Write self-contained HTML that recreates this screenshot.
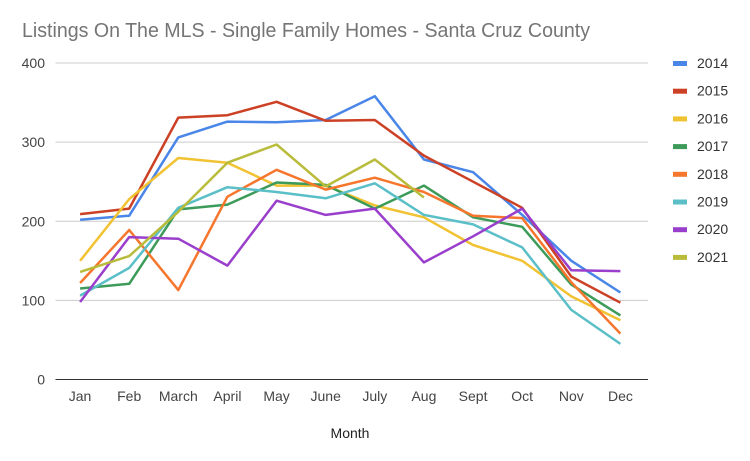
<!DOCTYPE html>
<html><head><meta charset="utf-8"><style>
body{margin:0;background:#fff;}
svg{display:block;font-family:"Liberation Sans",sans-serif;}
</style></head><body>
<svg id="chart" width="750" height="461">
<text x="22" y="37" font-size="20" fill="#757575" textLength="568" lengthAdjust="spacingAndGlyphs">Listings On The MLS - Single Family Homes - Santa Cruz County</text>
<g id="grid"></g><g id="lines"></g><g id="xlabels"></g><g id="legend"></g>
<text x="350" y="438" font-size="14" fill="#222" text-anchor="middle">Month</text>
</svg>
<script>
const months=["Jan","Feb","March","April","May","June","July","Aug","Sept","Oct","Nov","Dec"];
const yTicks=[0,100,200,300,400];
const seriesNames=["2014","2015","2016","2017","2018","2019","2020","2021"];
const seriesColors=["#4a86e8","#cc4125","#f1c232","#3d9b5a","#f6762d","#5bbfc8","#9a3fcc","#b9bc3b"];
const s2014=[202,207,306,326,325,328,358,278,262,208,150,110];
const s2015=[209,216,331,334,351,327,328,283,250,217,130,97];
const s2016=[150,228,280,274,245,245,220,205,170,150,105,75];
const s2017=[115,121,215,221,249,246,216,245,205,193,120,81];
const s2018=[122,189,113,231,265,240,255,237,207,204,123,58];
const s2019=[106,141,217,243,237,229,248,208,196,167,88,45];
const s2020=[98,180,178,144,226,208,216,148,181,216,138,137];
const s2021=[136,156,212,274,297,244,278,230,null,null,null,null];
const seriesData=[s2014,s2015,s2016,s2017,s2018,s2019,s2020,s2021];
const NS="http://www.w3.org/2000/svg";
const plotLeft=55.5,plotRight=645,plotTop=63,plotBottom=379.5,ymax=400;
const band=(plotRight-plotLeft)/months.length;
const xs=i=>plotLeft+band*(i+0.5);
const ys=v=>plotBottom-(v/ymax)*(plotBottom-plotTop);
function mk(tag,attrs,parent){const e=document.createElementNS(NS,tag);for(const k in attrs)e.setAttribute(k,attrs[k]);parent.appendChild(e);return e;}
const grid=document.getElementById('grid');
yTicks.forEach(t=>{
  const l=mk('line',{x1:plotLeft,x2:648,y1:ys(t),y2:ys(t),stroke:t===0?'#333':'#ccc','stroke-width':1},grid);
  
  
  const tx=mk('text',{x:45,y:ys(t)+5,'font-size':14,fill:'#444','text-anchor':'end'},grid);
  tx.textContent=t;
  
  
});
const xl=document.getElementById('xlabels');
months.forEach((m,i)=>{
  const t=mk('text',{x:xs(i),y:401,'font-size':14,fill:'#444','text-anchor':'middle'},xl);
  t.textContent=m;
  
  
});
const lines=document.getElementById('lines');
seriesData.forEach((d,si)=>{
  const pts=[];d.forEach((v,i)=>{if(v!==null)pts.push(xs(i).toFixed(1)+','+ys(v).toFixed(1));});
  const p=mk('polyline',{points:pts.join(' '),fill:'none',stroke:seriesColors[si],'stroke-width':2.5,'stroke-linejoin':'round'},lines);
  
  
});
const lg=document.getElementById('legend');
seriesNames.forEach((n,i)=>{
  const y=63+i*27.7;
  const g=mk('g',{},lg);
  
  
  mk('rect',{x:673,y:y-2,width:14,height:5,fill:seriesColors[i]},g);
  const t=mk('text',{x:697,y:y+5,'font-size':14,fill:'#333'},g);
  t.textContent=n;
});
</script>
</body></html>
